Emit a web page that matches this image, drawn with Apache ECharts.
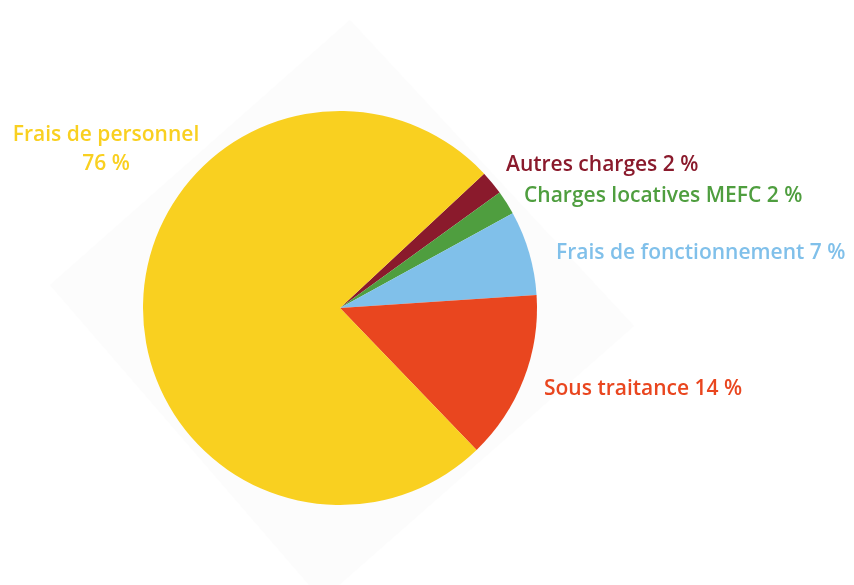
<!DOCTYPE html>
<html>
<head>
<meta charset="utf-8">
<script src="https://cdn.jsdelivr.net/npm/echarts@6/dist/echarts.min.js"></script>
<style>
  html, body { margin: 0; padding: 0; background: #fff; }
  #chart { width: 854px; height: 585px; }
</style>
</head>
<body>
<div id="chart"></div>
<script>
// Répartition des charges (sens horaire à partir du haut-droite)
const categories = [
  "Autres charges",
  "Charges locatives MEFC",
  "Frais de fonctionnement",
  "Sous traitance",
  "Frais de personnel",
];
const values = [2, 2, 7, 14, 76];
const colors = ["#8a1a2c", "#4f9e3f", "#80c0ea", "#e9461f", "#f9d020"];

// position des étiquettes (x, y, alignement)
const labelPos = [
  { x: 506, y: 165, align: "left" },
  { x: 524, y: 196, align: "left" },
  { x: 556, y: 253, align: "left" },
  { x: 544, y: 389, align: "left" },
  { x: 106, y: 150, align: "center" },
];

const chart = echarts.init(document.getElementById("chart"));

chart.setOption({
  animation: false,
  backgroundColor: "#ffffff",
  graphic: [
    {
      type: "polygon",
      z: -10,
      shape: { points: [[350, 20], [634, 326], [322, 600], [50, 285]] },
      style: { fill: "#fcfcfc" },
      silent: true,
    },
  ],
  series: [
    {
      type: "pie",
      center: [340, 308],
      radius: 197,
      startAngle: 43,
      clockwise: true,
      data: categories.map((name, i) => ({
        name,
        value: values[i],
        itemStyle: { color: colors[i] },
        label: {
          color: colors[i],
          formatter: i === 4 ? "{b}\n{c} %" : "{b} {c} %",
        },
      })),
      label: {
        show: true,
        position: "outside",
        fontFamily: "Open Sans",
        fontWeight: 600,
        fontSize: 21,
        lineHeight: 29,
        overflow: "none",
        width: 400,
      },
      labelLine: { show: false },
      labelLayout: (params) => {
        const p = labelPos[params.dataIndex];
        return { x: p.x, y: p.y, align: p.align, verticalAlign: "middle", hideOverlap: false };
      },
    },
  ],
});
</script>
</body>
</html>
